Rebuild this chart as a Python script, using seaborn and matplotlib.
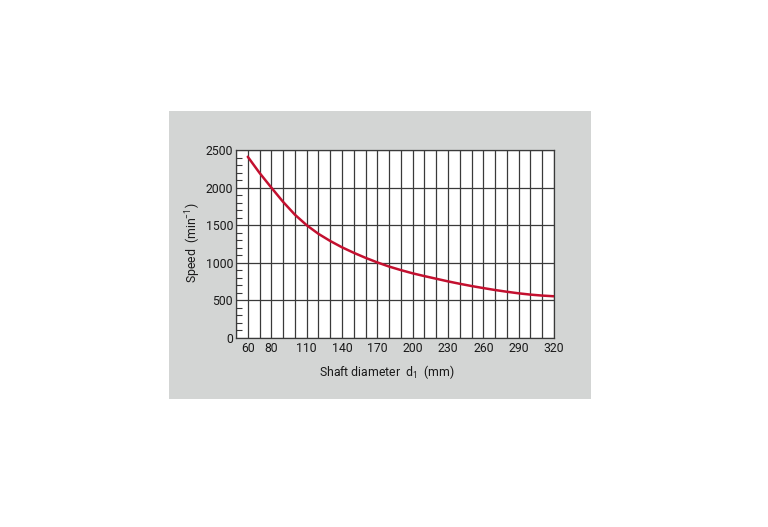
import pandas as pd
import matplotlib
matplotlib.use("Agg")
import matplotlib.pyplot as plt
from matplotlib.ticker import MultipleLocator, FixedLocator
import seaborn as sns

# Data
diameter = [60, 70, 80, 90, 100, 110, 120, 130, 140, 150, 160, 170, 180, 190,
            200, 210, 220, 230, 240, 250, 260, 270, 280, 290, 300, 310, 320]
speed = [2410, 2195, 2000, 1810, 1640, 1500, 1385, 1290, 1206, 1133, 1066, 1005,
         950, 903, 860, 823, 788, 753, 721, 691, 664, 638, 615, 594, 577, 564, 555]
x_tick_labels = [60, 80, 110, 140, 170, 200, 230, 260, 290, 320]
y_tick_labels = [0, 500, 1000, 1500, 2000, 2500]

df = pd.DataFrame({"d": diameter, "n": speed})

sns.set_style("white")
plt.rcParams['font.family'] = ['Roboto', 'DejaVu Sans']
plt.rcParams['mathtext.fontset'] = 'custom'
plt.rcParams['mathtext.rm'] = 'Roboto'
plt.rcParams['mathtext.it'] = 'Roboto'

W, H = 768, 527
fig = plt.figure(figsize=(W / 100, H / 100), dpi=100)
fig.patch.set_facecolor("white")

# grey panel as a background axes
bg = fig.add_axes([169 / W, 1 - 399 / H, (591 - 169) / W, (399 - 111) / H], zorder=-5)
bg.set_facecolor("#d3d5d4")
bg.set_xticks([])
bg.set_yticks([])
for s in bg.spines.values():
    s.set_visible(False)

left, right, top, bottom = 236, 554, 150, 338
ax = fig.add_axes([left / W, 1 - bottom / H, (right - left) / W, (bottom - top) / H], zorder=1)
ax.set_facecolor("white")

sns.lineplot(data=df, x="d", y="n", ax=ax, color="#c3102f", linewidth=1.8, zorder=3)

ax.set_xlim(50, 320)
ax.set_ylim(0, 2500)

ax.xaxis.set_major_locator(FixedLocator(x_tick_labels))
ax.xaxis.set_minor_locator(MultipleLocator(10))
ax.yaxis.set_major_locator(FixedLocator(y_tick_labels))
ax.yaxis.set_minor_locator(MultipleLocator(100))
ax.grid(which="major", axis="y", color="#3a3a3a", linewidth=0.9)
ax.grid(which="both", axis="x", color="#3a3a3a", linewidth=0.9)
ax.grid(which="minor", axis="y", visible=False)
ax.set_axisbelow(True)

ax.tick_params(axis="x", which="both", length=0, pad=3, labelsize=8.8, colors="#1a1a1a")
ax.tick_params(axis="y", which="major", length=0, pad=2, labelsize=8.8, colors="#1a1a1a")
ax.tick_params(axis="y", which="minor", direction="in", length=4, width=0.8,
               color="#3a3a3a", left=True)
ax.set_xticklabels([str(v) for v in x_tick_labels])
ax.set_yticklabels([str(v) for v in y_tick_labels])

for s in ax.spines.values():
    s.set_visible(True)
    s.set_color("#3a3a3a")
    s.set_linewidth(0.9)

ax.set_xlabel(r"Shaft diameter  d$_1$  (mm)", fontsize=8.8, color="#1a1a1a")
ax.set_ylabel(r"Speed  (min$^{-1}$)", fontsize=8.8, color="#1a1a1a")
ax.xaxis.set_label_coords((387 - left) / (right - left), -(372 - bottom) / (bottom - top))
ax.yaxis.set_label_coords(-(left - 193) / (right - left), (bottom - 243) / (bottom - top))
ax.xaxis.label.set_va("center")
ax.yaxis.label.set_va("center")

fig.savefig("out.png", dpi=100, facecolor="white")
